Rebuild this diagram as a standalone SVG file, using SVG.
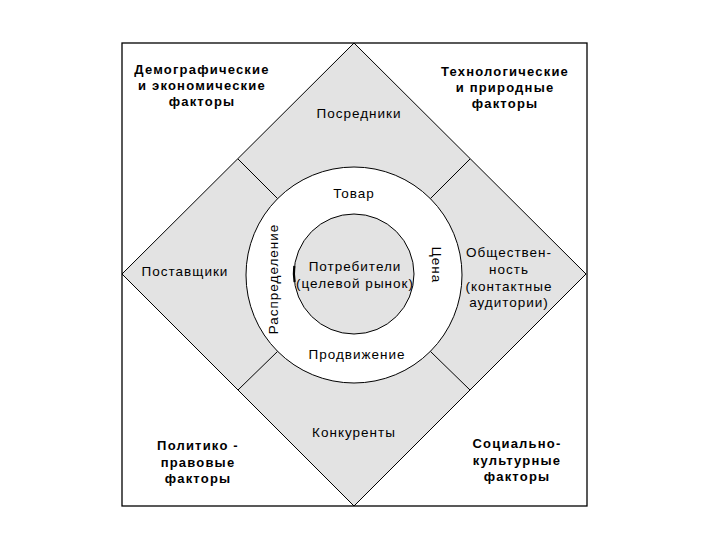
<svg xmlns="http://www.w3.org/2000/svg" width="720" height="540" viewBox="0 0 720 540">
<style>
.lbl{font-family:"Liberation Sans",Arial,sans-serif;font-size:13.5px;letter-spacing:1px;fill:#000;text-anchor:middle}
.fac{font-family:"Liberation Sans",Arial,sans-serif;font-size:13px;font-weight:bold;letter-spacing:1.2px;fill:#000;text-anchor:middle}
.ln{stroke:#000;stroke-width:1;fill:none}
</style>
<rect x="0" y="0" width="720" height="540" fill="#fff"/>
<g id="frame"><rect x="122" y="43" width="465" height="463" fill="#fff" stroke="#000" stroke-width="1.3"/></g>
<g id="diamond"><path d="M354 43 L586 274 L354 506 L122 274 Z" fill="#e3e3e3" stroke="#000" stroke-width="1"/></g>
<g id="ring"><circle cx="354" cy="275" r="108" fill="#fff" stroke="#000" stroke-width="1"/></g>
<g id="core"><circle cx="354" cy="274" r="60" fill="#e3e3e3" stroke="#000" stroke-width="1"/>
<path d="M294.3 266 A60 60 0 0 0 294.6 282" stroke="#000" stroke-width="2.2" fill="none"/></g>
<g id="dividers">
<line class="ln" x1="238" y1="159" x2="277.6" y2="198.6"/>
<line class="ln" x1="470" y1="159" x2="430.4" y2="198.6"/>
<line class="ln" x1="238" y1="390" x2="277.6" y2="351.4"/>
<line class="ln" x1="470" y1="390" x2="430.4" y2="351.4"/>
</g>
<g id="demo"><text class="fac" x="202" y="74">Демографические</text><text class="fac" x="202" y="90">и экономические</text><text class="fac" x="202" y="106">факторы</text></g>
<g id="tech"><text class="fac" x="505" y="76">Технологические</text><text class="fac" x="505" y="92">и природные</text><text class="fac" x="505" y="108">факторы</text></g>
<g id="polit"><text class="fac" x="198" y="450">Политико -</text><text class="fac" x="198" y="467">правовые</text><text class="fac" x="198" y="483">факторы</text></g>
<g id="social"><text class="fac" x="517" y="448">Социально-</text><text class="fac" x="517" y="465">культурные</text><text class="fac" x="517" y="481">факторы</text></g>
<g id="posredniki"><text class="lbl" x="359" y="118">Посредники</text></g>
<g id="postavshiki"><text class="lbl" x="185" y="276">Поставщики</text></g>
<g id="obshestvennost"><text class="lbl" x="509" y="257">Обществен-</text><text class="lbl" x="509" y="274">ность</text><text class="lbl" x="509" y="291">(контактные</text><text class="lbl" x="509" y="307">аудитории)</text></g>
<g id="konkurenty"><text class="lbl" x="354" y="437">Конкуренты</text></g>
<g id="tovar"><text class="lbl" x="354" y="198">Товар</text></g>
<g id="prodvizhenie"><text class="lbl" x="357" y="359">Продвижение</text></g>
<g id="raspredelenie"><text class="lbl" transform="translate(278 279) rotate(-90)">Распределение</text></g>
<g id="cena"><text class="lbl" transform="translate(432 265) rotate(90)">Цена</text></g>
<g id="potrebiteli"><text class="lbl" x="355" y="271">Потребители</text><text class="lbl" x="355" y="288">(целевой рынок)</text></g>
</svg>
